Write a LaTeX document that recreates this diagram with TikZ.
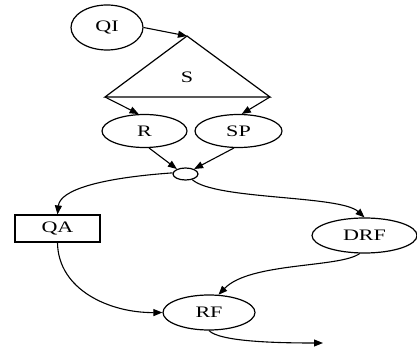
\documentclass[tikz,border=0pt]{standalone}
\usepackage{fontspec}
\setmainfont{Liberation Serif}
\usetikzlibrary{shapes.geometric,arrows.meta}
\newcommand{\stx}[1]{\scalebox{1.38}[1]{#1}}
\tikzset{
  lbl/.style={font=\fontsize{16}{19}\selectfont, inner sep=0pt},
  oval/.style={draw, ellipse, line width=1.2pt, inner sep=0pt, font=\fontsize{16}{19}\selectfont},
  boxn/.style={draw, rectangle, line width=1.1pt, inner sep=0pt, font=\fontsize{16}{19}\selectfont},
  conn/.style={line width=1.1pt, -{Triangle[length=9pt,width=7pt]}},
  tri/.style={line width=1.2pt, line join=miter}
}
\begin{document}
\begin{tikzpicture}[x=1pt,y=1pt]
\useasboundingbox (0,0) rectangle (417,-352);
% nodes
\node[oval, minimum width=72, minimum height=45] (QI) at (107,-27.5) {\stx{QI}};
\coordinate (apex) at (187,-36);
\coordinate (lv) at (105,-97);
\coordinate (rv) at (270,-97);
\draw[tri] (apex) -- (rv) -- (lv) -- cycle;
\node[lbl] (S) at (187,-77) {\stx{S}};
\node[oval, minimum width=85, minimum height=33] (R) at (144.5,-131) {\stx{R}};
\node[oval, minimum width=87, minimum height=33] (SP) at (238.5,-131) {\stx{SP}};
\node[oval, minimum width=25, minimum height=12] (J) at (185.5,-174) {};
\node[boxn, minimum width=85, minimum height=27] (QA) at (57.5,-228.5) {\stx{QA}};
\node[oval, minimum width=105, minimum height=35] (DRF) at (364.5,-235.5) {\stx{DRF}};
\node[oval, minimum width=92, minimum height=35] (RF) at (209,-312.5) {\stx{RF}};
\coordinate (out) at (323,-343);
% connectors
\draw[conn] (QI.east) -- (apex);
\draw[conn] (lv) -- (R.109);
\draw[conn] (rv) -- (SP.79);
\draw[conn] (R.285) -- (J.150);
\draw[conn] (SP.255) -- (J.30);
\draw[conn] (J.175) .. controls (100,-178) and (60,-190) .. (QA.north);
\draw[conn] (J.320) .. controls (215,-200) and (340,-195) .. (DRF.north);
\draw[conn] (QA.south) .. controls (58,-290) and (110,-313) .. (RF.west);
\draw[conn] (DRF.255) .. controls (340,-268) and (250,-262) .. (RF.62);
\draw[conn] (RF.south) .. controls (220,-342) and (280,-343) .. (out);
\end{tikzpicture}
\end{document}
